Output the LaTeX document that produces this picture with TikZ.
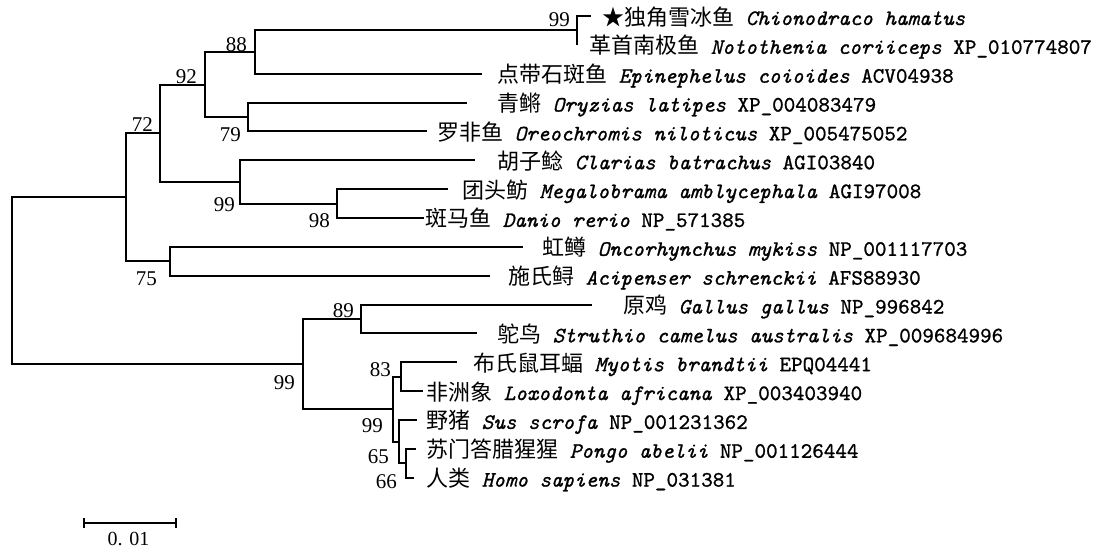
\documentclass[tikz,border=0pt]{standalone}
\usepackage{fontspec}
\setmonofont{lmmono10-regular.otf}[ItalicFont=lmmono10-italic.otf, FakeBold=1]
\newfontfamily\cjk{Noto Sans CJK SC}
\newfontfamily\numfont{Liberation Serif}
\newcommand{\leaffont}{\ttfamily\fontsize{22}{26}\selectfont}
\newcommand{\bsfont}{\numfont\fontsize{21}{25}\selectfont}
\tikzset{
  leaf/.style={anchor=base west, inner sep=0pt, font=\leaffont},
  bs/.style={anchor=base east, inner sep=0pt, font=\bsfont},
  branch/.style={line width=2pt, draw=black}
}
\begin{document}
\begin{tikzpicture}[x=1pt,y=-1pt]
\path[use as bounding box] (0,0) rectangle (1096,549);
% rows
\def\ra{16}\def\rb{44.85}\def\rc{73.7}\def\rd{102.55}\def\re{131.4}\def\rf{160.25}
\def\rg{189.1}\def\rh{217.95}\def\ri{246.8}\def\rj{275.65}\def\rk{304.5}\def\rl{333.35}
\def\rm{362.2}\def\rn{391.05}\def\ro{419.9}\def\rp{448.75}\def\rq{477.6}
% internal nodes
\coordinate (root) at (12,280.6);
\coordinate (X) at (126,197.2);
\coordinate (A) at (160,133.2);
\coordinate (B) at (205,84.52);
\coordinate (C) at (255,52.06);
\coordinate (D) at (577,30.43);
\coordinate (E) at (248,116.98);
\coordinate (F) at (240,181.89);
\coordinate (G) at (337,203.53);
\coordinate (H) at (170,261.23);
\coordinate (I) at (303,364.0);
\coordinate (J) at (361,318.93);
\coordinate (K) at (393,409.08);
\coordinate (L) at (401,376.63);
\coordinate (M) at (399,441.54);
\coordinate (N) at (406,463.18);
% leaf tips
\coordinate (t1) at (591,\ra);
\coordinate (t2) at (577,\rb);
\coordinate (t3) at (482,\rc);
\coordinate (t4) at (467,\rd);
\coordinate (t5) at (427,\re);
\coordinate (t6) at (475,\rf);
\coordinate (t7) at (448,\rg);
\coordinate (t8) at (424,\rh);
\coordinate (t9) at (523,\ri);
\coordinate (t10) at (490,\rj);
\coordinate (t11) at (592,\rk);
\coordinate (t12) at (477,\rl);
\coordinate (t13) at (457,\rm);
\coordinate (t14) at (423,\rn);
\coordinate (t15) at (417,\ro);
\coordinate (t16) at (416,\rp);
\coordinate (t17) at (414,\rq);
% branches
\draw[branch] (root) |- (X); \draw[branch] (root) |- (I);
\draw[branch] (X) |- (A); \draw[branch] (X) |- (H);
\draw[branch] (A) |- (B); \draw[branch] (A) |- (F);
\draw[branch] (B) |- (C); \draw[branch] (B) |- (E);
\draw[branch] (C) |- (D); \draw[branch] (C) |- (t3);
\draw[branch] (D) |- (t1); \draw[branch] (D) |- (t2);
\draw[branch] (E) |- (t4); \draw[branch] (E) |- (t5);
\draw[branch] (F) |- (t6); \draw[branch] (F) |- (G);
\draw[branch] (G) |- (t7); \draw[branch] (G) |- (t8);
\draw[branch] (H) |- (t9); \draw[branch] (H) |- (t10);
\draw[branch] (I) |- (J); \draw[branch] (I) |- (K);
\draw[branch] (J) |- (t11); \draw[branch] (J) |- (t12);
\draw[branch] (K) |- (L); \draw[branch] (K) |- (M);
\draw[branch] (L) |- (t13); \draw[branch] (L) |- (t14);
\draw[branch] (M) |- (t15); \draw[branch] (M) |- (N);
\draw[branch] (N) |- (t16); \draw[branch] (N) |- (t17);
% leaf labels
\node[leaf] (n1) at (602,\ra+9) {{\cjk ★独角雪冰鱼} \textit{Chionodraco hamatus}};
\node[leaf] (n2) at (589,\rb+9) {{\cjk 革首南极鱼} \textit{Notothenia coriiceps} XP\_010774807};
\node[leaf] (n3) at (497,\rc+9) {{\cjk 点带石斑鱼} \textit{Epinephelus coioides} ACV04938};
\node[leaf] (n4) at (497,\rd+9) {{\cjk 青鳉} \textit{Oryzias latipes} XP\_004083479};
\node[leaf] (n5) at (437,\re+9) {{\cjk 罗非鱼} \textit{Oreochromis niloticus} XP\_005475052};
\node[leaf] (n6) at (497,\rf+9) {{\cjk 胡子鲶} \textit{Clarias batrachus} AGI03840};
\node[leaf] (n7) at (462,\rg+9) {{\cjk 团头鲂} \textit{Megalobrama amblycephala} AGI97008};
\node[leaf] (n8) at (425,\rh+9) {{\cjk 斑马鱼} \textit{Danio rerio} NP\_571385};
\node[leaf] (n9) at (542,\ri+9) {{\cjk 虹鳟} \textit{Oncorhynchus mykiss} NP\_001117703};
\node[leaf] (n10) at (508,\rj+9) {{\cjk 施氏鲟} \textit{Acipenser schrenckii} AFS88930};
\node[leaf] (n11) at (623,\rk+9) {{\cjk 原鸡} \textit{Gallus gallus} NP\_996842};
\node[leaf] (n12) at (497,\rl+9) {{\cjk 鸵鸟} \textit{Struthio camelus australis} XP\_009684996};
\node[leaf] (n13) at (473,\rm+9) {{\cjk 布氏鼠耳蝠} \textit{Myotis brandtii} EPQ04441};
\node[leaf] (n14) at (426,\rn+9) {{\cjk 非洲象} \textit{Loxodonta africana} XP\_003403940};
\node[leaf] (n15) at (426,\ro+9) {{\cjk 野猪} \textit{Sus scrofa} NP\_001231362};
\node[leaf] (n16) at (426,\rp+9) {{\cjk 苏门答腊猩猩} \textit{Pongo abelii} NP\_001126444};
\node[leaf] (n17) at (426,\rq+9) {{\cjk 人类} \textit{Homo sapiens} NP\_031381};
% bootstrap values
\node[bs] (bD) at (570,26) {99};
\node[bs] (bC) at (247,51) {88};
\node[bs] (bB) at (197,83) {92};
\node[bs] (bA) at (153,131) {72};
\node[bs] (bE) at (241,141) {79};
\node[bs] (bF) at (235,211) {99};
\node[bs] (bG) at (330,227) {98};
\node[bs] (bH) at (157,285) {75};
\node[bs] (bI) at (295,389) {99};
\node[bs] (bJ) at (354,317) {89};
\node[bs] (bL) at (391,376) {83};
\node[bs] (bK) at (383,432) {99};
\node[bs] (bM) at (389,463) {65};
\node[bs] (bN) at (397,488) {66};
% scale bar
\coordinate (s1) at (84,523);
\coordinate (s2) at (176,523);
\draw[branch] (s1) -- (s2);
\draw[branch] ([yshift=-5pt]s1) -- ([yshift=5pt]s1);
\draw[branch] ([yshift=-5pt]s2) -- ([yshift=5pt]s2);
\node[anchor=base, inner sep=0pt, font=\numfont\fontsize{20}{24}\selectfont] (sl) at (128.5,545) {0. 01};
\end{tikzpicture}
\end{document}
